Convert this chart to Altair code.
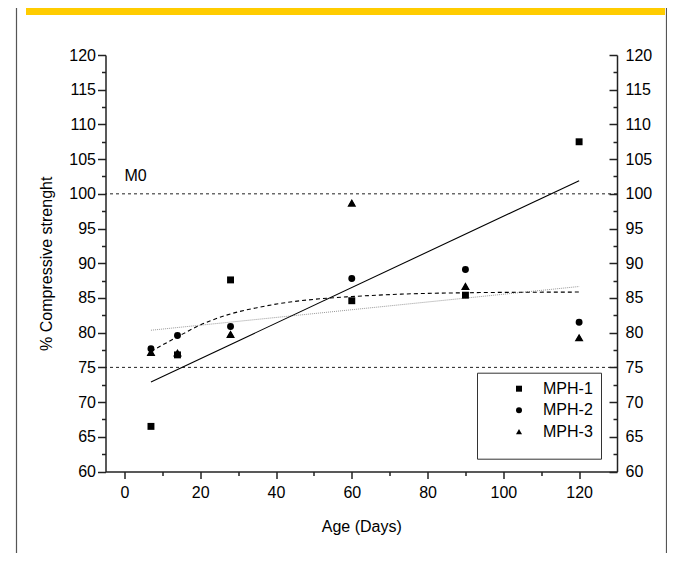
import altair as alt
import pandas as pd

# ---- data ----
days = [7, 14, 28, 60, 90, 120]
series = ["MPH-1", "MPH-2", "MPH-3"]
mph1 = [66.5, 76.8, 87.6, 84.6, 85.4, 107.5]
mph2 = [77.7, 79.6, 80.9, 87.8, 89.1, 81.5]
mph3 = [77.2, 77.1, 79.8, 98.7, 86.7, 79.3]

# fitted curves as drawn
lin_x = [7, 120]
lin_y = [72.9, 101.9]
dash_x = [7, 14, 20, 28, 35, 41, 50, 60, 73, 90, 105, 120]
dash_y = [77.3, 79.4, 81.1, 82.7, 83.6, 84.2, 84.8, 85.2, 85.55, 85.75, 85.82, 85.85]
dot_x = [7, 120]
dot_y = [80.35, 86.65]
ref_y = [100, 75]
label_x = [0]
label_y = [102.5]
label_text = ["M0"]

x_major = [0, 20, 40, 60, 80, 100, 120]
x_minor = [10, 30, 50, 70, 90, 110]
y_major = [60, 65, 70, 75, 80, 85, 90, 95, 100, 105, 110, 115, 120]
y_minor = [62.5, 67.5, 72.5, 77.5, 82.5, 87.5, 92.5, 97.5, 102.5, 107.5, 112.5, 117.5]

# ---- tables ----
pts = pd.DataFrame(
    {
        "day": days * 3,
        "val": mph1 + mph2 + mph3,
        "series": [s for s in series for _ in days],
    }
)
tri = pd.DataFrame({"day": days, "val": mph3})
lin = pd.DataFrame({"x": lin_x, "y": lin_y})
dash = pd.DataFrame({"x": dash_x, "y": dash_y})
dot = pd.DataFrame({"x": dot_x, "y": dot_y})
refs = pd.DataFrame({"y": ref_y})
lab = pd.DataFrame({"x": label_x, "y": label_y, "t": label_text})
one = pd.DataFrame({"a": [0]})

W, H = 511.5, 416.5
FONT = "Liberation Sans"
AX = "#222222"
xs = alt.Scale(domain=[-5, 130], nice=False, zero=False)
ys = alt.Scale(domain=[60, 120], nice=False, zero=False)

ax_x_major = alt.Axis(
    values=x_major, tickSize=7, labelPadding=6, title="Age (Days)", titlePadding=18,
    orient="bottom", grid=False,
)
ax_x_minor = alt.Axis(
    values=x_minor, tickSize=4, labels=False, domain=False, title=None,
    orient="bottom", grid=False,
)
ax_y_major = alt.Axis(
    values=y_major, tickSize=8, labelPadding=2, title="% Compressive strenght",
    titlePadding=14, orient="left", grid=False,
)
ax_y_minor = alt.Axis(
    values=y_minor, tickSize=4, labels=False, domain=False, title=None,
    orient="left", grid=False,
)
ax_y_right = alt.Axis(
    values=y_major, ticks=False, labelPadding=8, title=None, orient="right", grid=False,
)
ax_y_right_in = alt.Axis(
    values=y_major, tickSize=8, labels=False, domain=False, title=None,
    orient="left", offset=-W, grid=False,
)
ax_y_right_in_minor = alt.Axis(
    values=y_minor, tickSize=4, labels=False, domain=False, title=None,
    orient="left", offset=-W, grid=False,
)

points = (
    alt.Chart(pts)
    .mark_point(filled=True, color="black", opacity=1, size=48)
    .encode(
        x=alt.X("day:Q", scale=xs, axis=ax_x_major),
        y=alt.Y("val:Q", scale=ys, axis=ax_y_major),
        shape=alt.Shape(
            "series:N",
            scale=alt.Scale(domain=series, range=["square", "circle", "triangle-up"]),
            legend=alt.Legend(
                title=" ",
                titleOrient="bottom",
                titleFontSize=4,
                titlePadding=7,
                orient="none",
                legendX=371.5,
                legendY=317.7,
                padding=8,
                strokeColor="#333333",
                fillColor="white",
                labelFont=FONT,
                labelFontSize=16,
                labelColor="black",
                symbolOffset=26,
                labelOffset=16,
                rowPadding=5.5,
                symbolSize=36,
                symbolFillColor="black",
                symbolStrokeColor="black",
            ),
        ),
    )
)

triangles = (
    alt.Chart(tri)
    .mark_point(filled=True, color="black", opacity=1, size=78, shape="triangle-up")
    .encode(
        x=alt.X("day:Q", scale=xs, axis=None),
        y=alt.Y("val:Q", scale=ys, axis=None),
    )
)

fit_line = (
    alt.Chart(lin)
    .mark_line(color="black", strokeWidth=1.1)
    .encode(
        x=alt.X("x:Q", scale=xs, axis=ax_x_minor),
        y=alt.Y("y:Q", scale=ys, axis=ax_y_minor),
    )
)

dash_line = (
    alt.Chart(dash)
    .mark_line(color="black", strokeWidth=1.1, strokeDash=[4, 3], interpolate="monotone")
    .encode(
        x=alt.X("x:Q", scale=xs, axis=None),
        y=alt.Y("y:Q", scale=ys, axis=ax_y_right),
    )
)

dot_line = (
    alt.Chart(dot)
    .mark_line(color="#999999", strokeWidth=1, strokeDash=[1, 1])
    .encode(
        x=alt.X("x:Q", scale=xs, axis=None),
        y=alt.Y("y:Q", scale=ys, axis=ax_y_right_in),
    )
)

ref_lines = (
    alt.Chart(refs)
    .mark_rule(color="#222222", strokeWidth=1, strokeDash=[3, 3])
    .encode(y=alt.Y("y:Q", scale=ys, axis=ax_y_right_in_minor))
)

m0 = (
    alt.Chart(lab)
    .mark_text(align="left", baseline="middle", font=FONT, fontSize=16, color="black")
    .encode(
        x=alt.X("x:Q", scale=xs, axis=None),
        y=alt.Y("y:Q", scale=ys, axis=None),
        text="t:N",
    )
)

band = (
    alt.Chart(one)
    .mark_rect(color="#FFCC00")
    .encode(x=alt.value(-79.5), x2=alt.value(559.5), y=alt.value(-47), y2=alt.value(-40))
)
frame_left = (
    alt.Chart(one)
    .mark_rule(color="#555555", strokeWidth=1.2)
    .encode(x=alt.value(-89), y=alt.value(-47), y2=alt.value(498))
)
frame_right = (
    alt.Chart(one)
    .mark_rule(color="#555555", strokeWidth=1.2)
    .encode(x=alt.value(561), y=alt.value(-47), y2=alt.value(498))
)

chart = (
    alt.layer(
        band, frame_left, frame_right, ref_lines, dot_line, dash_line, fit_line,
        points, triangles, m0
    )
    .resolve_axis(x="independent", y="independent")
    .properties(
        width=W,
        height=H,
        padding={"left": 97.5, "top": 47, "right": 50, "bottom": 81.5},
        autosize=alt.AutoSizeParams(type="none"),
    )
    .configure_view(stroke=None)
    .configure_axis(
        labelFont=FONT,
        titleFont=FONT,
        labelFontSize=16,
        titleFontSize=16,
        labelColor="black",
        titleColor="black",
        titleFontWeight="normal",
        domainColor=AX,
        tickColor=AX,
        domainWidth=1.5,
        tickWidth=1.5,
    )
)

chart.save("out.html", embed_options={"renderer": "svg", "actions": False})
